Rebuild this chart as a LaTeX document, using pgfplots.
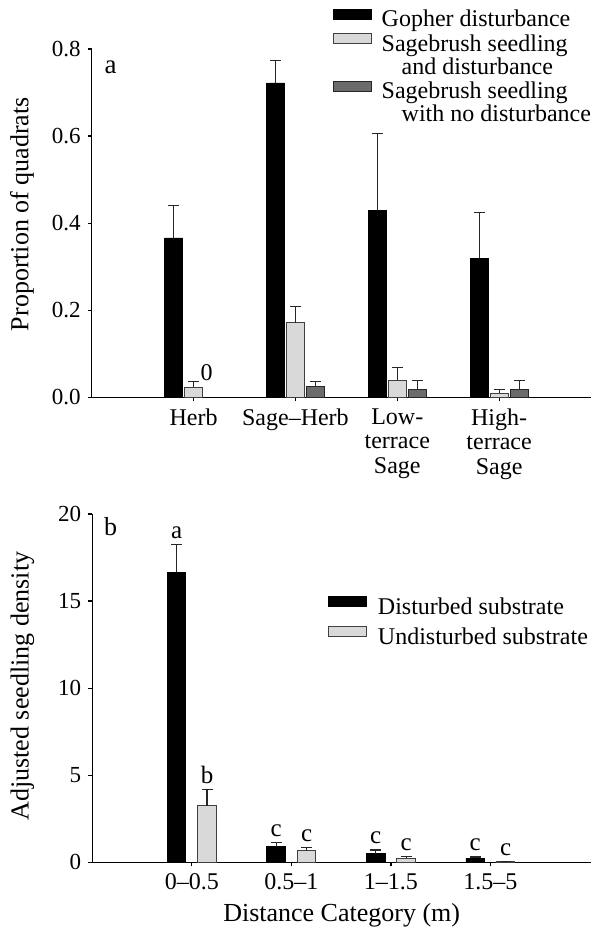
\documentclass[border=0pt]{standalone}
\usepackage{fontspec}
\setmainfont{Liberation Serif}
\usepackage{pgfplots}
\pgfplotsset{compat=1.18}
\definecolor{lightbar}{gray}{0.85}
\definecolor{darkbar}{gray}{0.42}
\definecolor{ebcol}{gray}{0.15}
\pgfplotsset{
  common/.style={
    scale only axis,
    axis x line*=bottom, axis y line*=left,
    axis line style={line width=0.6pt, black},
    tick align=outside, major tick length=2pt,
    tick style={line width=0.6pt, black},
    ymin=0, clip=false, xmin=-1,
    /pgf/number format/assume math mode=true,
    yticklabel style={font=\fontsize{11.5}{13}\selectfont},
    xticklabel style={font=\fontsize{12}{12.4}\selectfont, align=center},
    label style={font=\fontsize{13}{15}\selectfont},
    legend cell align=left,
    legend style={draw=none, fill=none, inner sep=0pt, outer sep=0pt,
      anchor=north west, font=\fontsize{12}{12}\selectfont,
      nodes={inner sep=0pt, text height=8.5pt, text depth=2.5pt}},
  },
  eb/.style={error bars/.cd, y dir=plus, y explicit,
    error bar style={line width=0.6pt, ebcol},
    error mark options={rotate=90, line width=0.6pt, ebcol, mark size=2.75pt}},
  legboxa/.style={legend image code/.code={\draw[##1] (0pt,0.85pt) rectangle (19.25pt,5.85pt);}},
  legboxb/.style={legend image code/.code={\draw[##1] (0pt,1pt) rectangle (18.8pt,6pt);}},
}
\begin{document}
\begin{tikzpicture}
\useasboundingbox (-45.85pt,-266.35pt) rectangle (249.65pt,198.65pt);
% ---------------- panel a ----------------
\begin{axis}[common,
  ybar=1pt, bar width=9pt,
  at={(0pt,0pt)}, anchor=south west,
  width=249.65pt, height=174.15pt,
  xmax=3.902, ymax=0.8,
  xtick={0,1,2,3},
  xticklabels={Herb,Sage–Herb,{Low-\\terrace\\Sage},{High-\\terrace\\Sage}},
  ytick={0,0.2,0.4,0.6,0.8},
  yticklabel style={/pgf/number format/.cd, fixed, fixed zerofill, precision=1},
  ylabel={Proportion of quadrats},
  ylabel style={at={(axis description cs:-0.1396,0.526)}, anchor=center},
  legend style={at={(0.4829,1.116)}, column sep=4.7pt, row sep=0.6pt},
]
\addplot[fill=black, draw=black, line width=0.4pt, legboxa, eb]
  coordinates {(0,0.366) +- (0,0.075) (1,0.722) +- (0,0.051) (2,0.429) +- (0,0.176) (3,0.319) +- (0,0.106)};
\addlegendentry{Gopher disturbance}
\addplot[fill=lightbar, draw=black!75, line width=0.5pt, legboxa, eb]
  coordinates {(0,0.023) +- (0,0.013) (1,0.171) +- (0,0.038) (2,0.039) +- (0,0.029) (3,0.009) +- (0,0.009)};
\addlegendentry{Sagebrush seedling}
\addlegendimage{empty legend}
\addlegendentry{\hspace*{10pt}and disturbance}
\addplot[fill=darkbar, draw=black!85, line width=0.5pt, legboxa, eb]
  coordinates {(1,0.024) +- (0,0.012) (2,0.019) +- (0,0.020) (3,0.019) +- (0,0.020)};
\addlegendentry{Sagebrush seedling}
\addlegendimage{empty legend}
\addlegendentry{\hspace*{10pt}with no disturbance}
\node[font=\fontsize{12}{12}\selectfont] at (axis cs:0.128,0.057) {0};
\node[font=\fontsize{13.5}{14}\selectfont] at (axis cs:-0.815,0.759) {a};
\end{axis}
% ---------------- panel b ----------------
\begin{axis}[common,
  ybar=6pt, bar width=9.25pt,
  at={(0.3pt,-232.5pt)}, anchor=south west,
  width=249.35pt, height=174.15pt,
  xmax=4.01, ymax=20,
  xtick={0,1,2,3},
  xticklabels={0–0.5,0.5–1,1–1.5,1.5–5},
  ytick={0,5,10,15,20},
  xlabel={Distance Category (m)},
  xlabel style={at={(axis description cs:0.5,-0.1513)}, anchor=center},
  ylabel={Adjusted seedling density},
  ylabel style={at={(axis description cs:-0.14,0.506)}, anchor=center},
  legend style={at={(0.4726,0.7646)}, column sep=5.7pt, row sep=3.5pt},
]
\addplot[fill=black, draw=black, line width=0.4pt, legboxb, eb]
  coordinates {(0,16.66) +- (0,1.58) (1,0.90) +- (0,0.25) (2,0.50) +- (0,0.21) (3,0.23) +- (0,0.08)};
\addlegendentry{Disturbed substrate}
\addplot[fill=lightbar, draw=black!75, line width=0.5pt, legboxb, eb]
  coordinates {(0,3.25) +- (0,0.93) (1,0.65) +- (0,0.21) (2,0.22) +- (0,0.10) (3,0.03) +- (0,0.01)};
\addlegendentry{Undisturbed substrate}
\begin{scope}[every node/.style={font=\fontsize{12.5}{13}\selectfont, anchor=base, yshift=3pt}]
\node at (axis cs:-0.153,18.24) {a};
\node at (axis cs:0.153,4.18) {b};
\node at (axis cs:0.847,1.15) {c};
\node at (axis cs:1.153,0.86) {c};
\node at (axis cs:1.847,0.71) {c};
\node at (axis cs:2.153,0.32) {c};
\node at (axis cs:2.847,0.31) {c};
\node at (axis cs:3.153,0.04) {c};
\end{scope}
\node[font=\fontsize{13}{14}\selectfont] at (axis cs:-0.816,19.27) {b};
\end{axis}
\end{tikzpicture}
\end{document}
